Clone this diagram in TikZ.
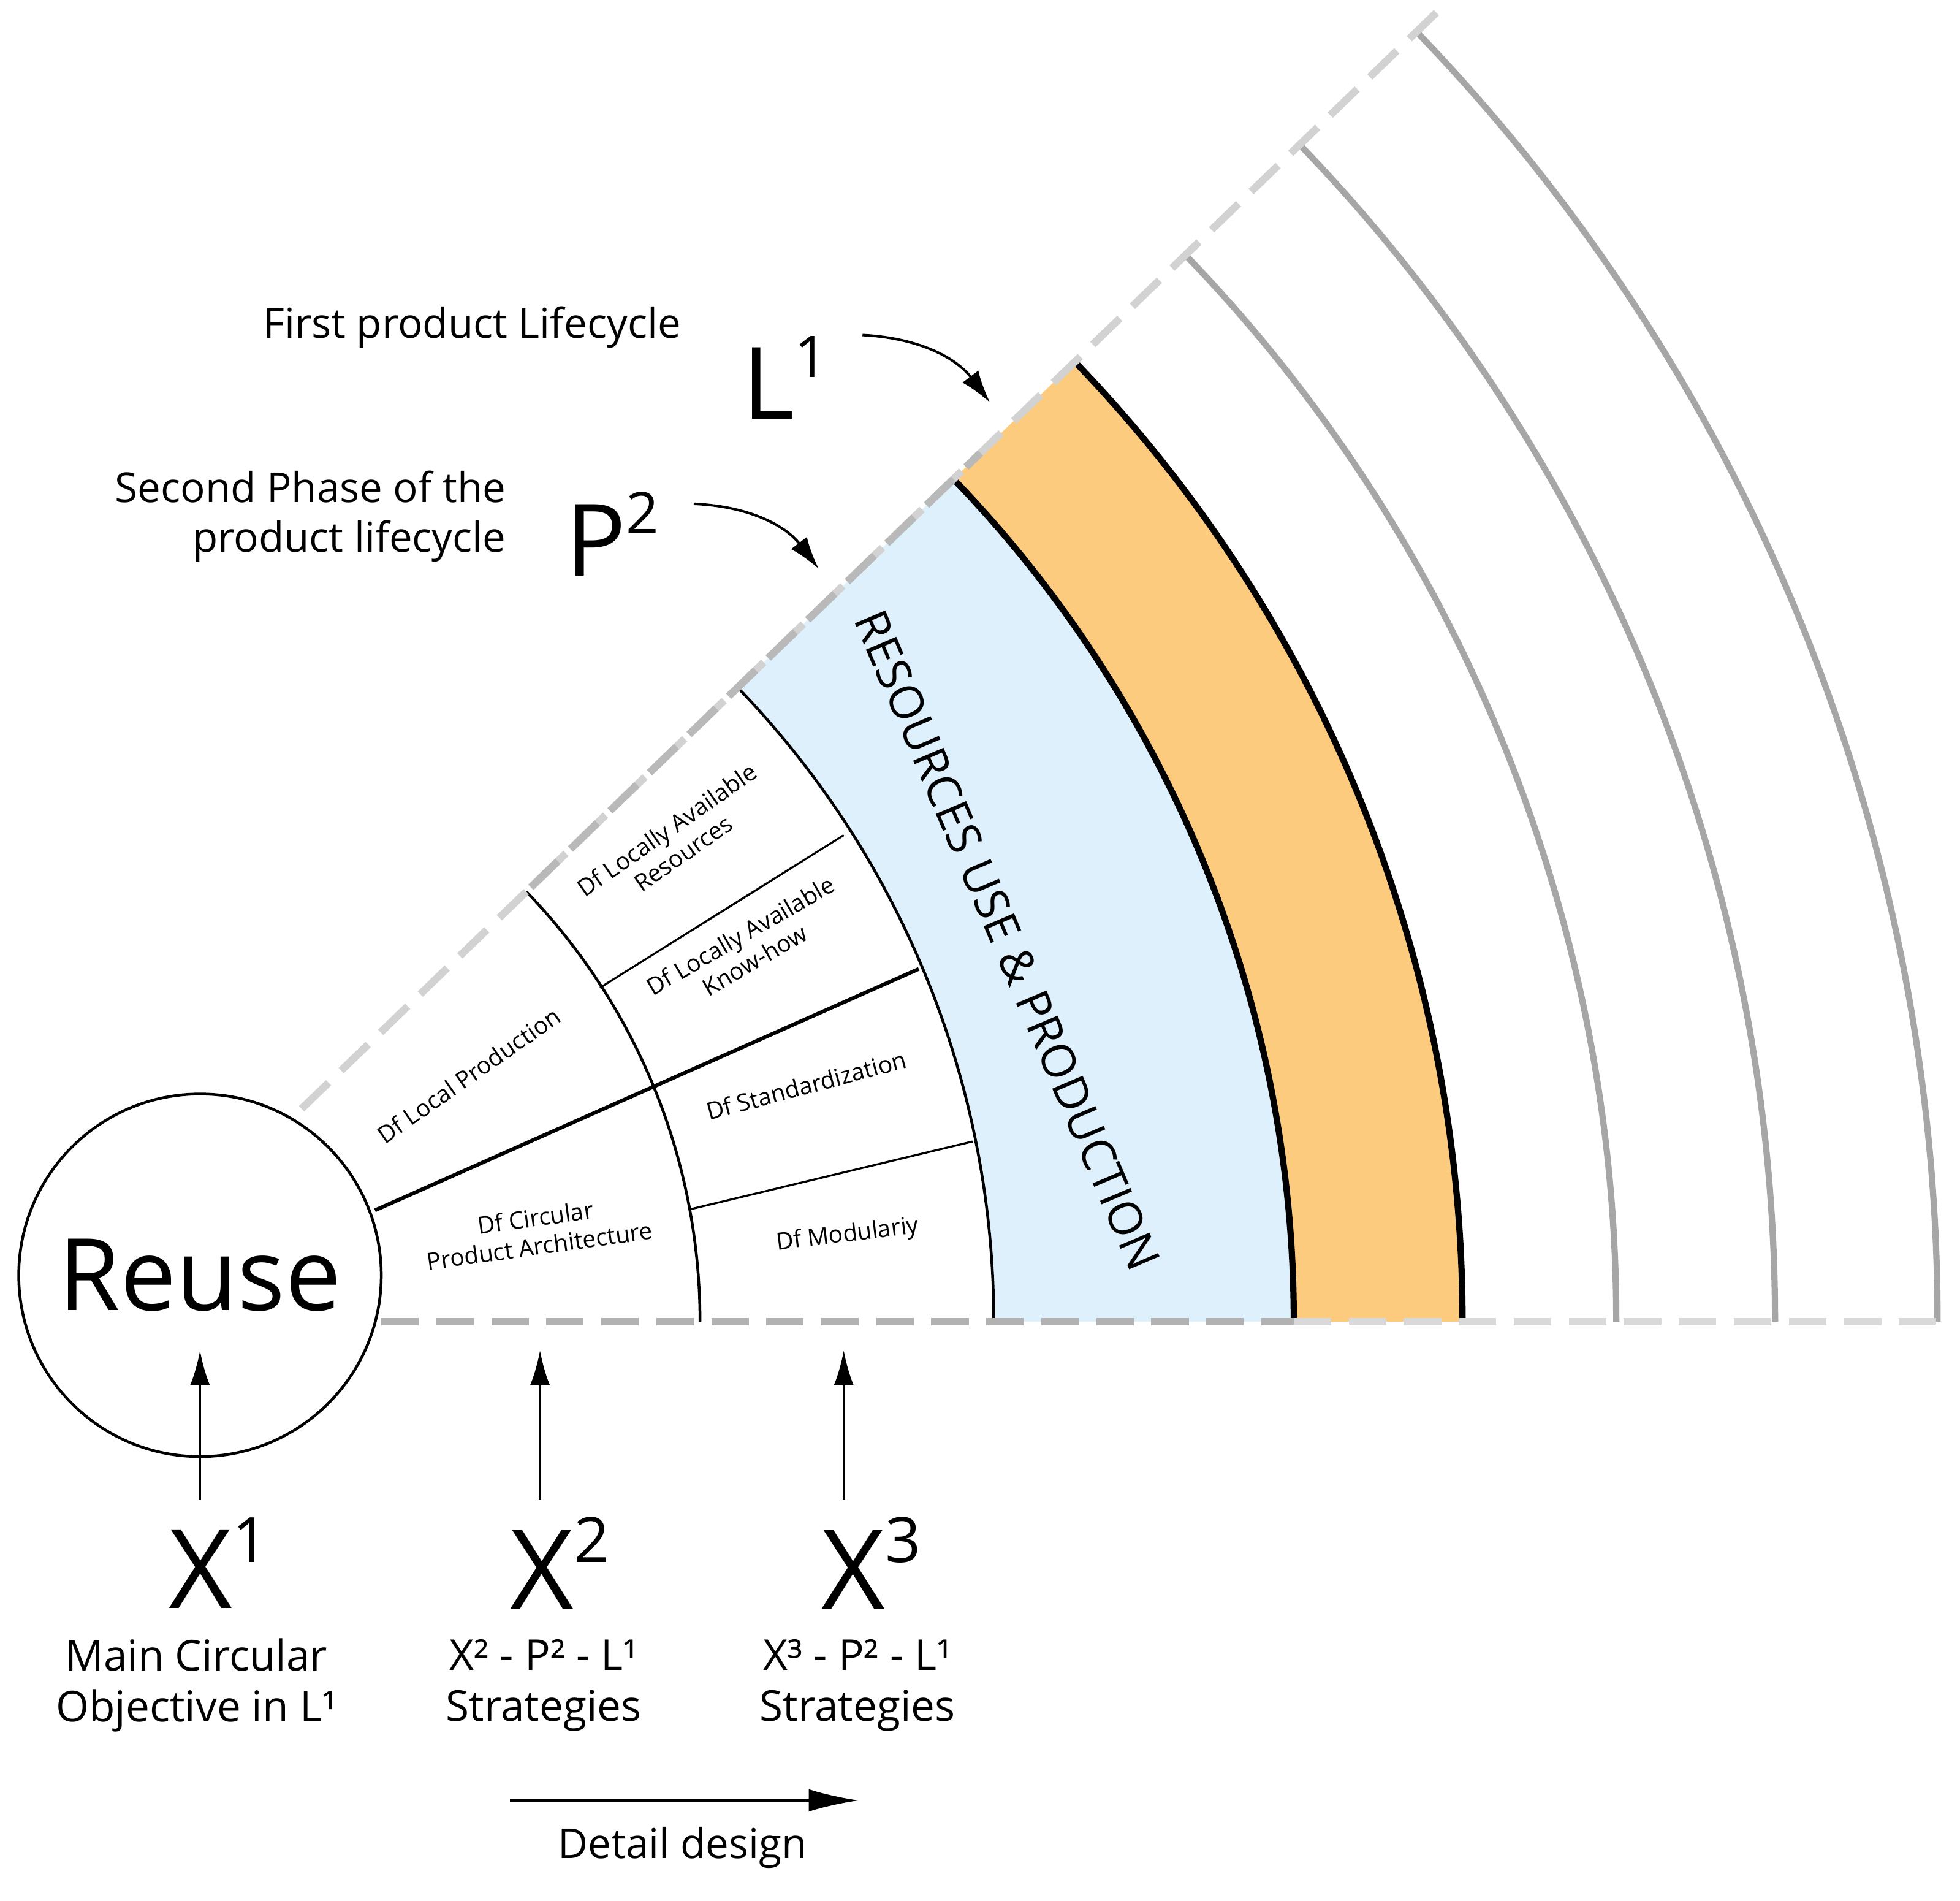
\documentclass[tikz,border=0pt]{standalone}
\usepackage{fontspec}
\setmainfont{Open Sans}
\usetikzlibrary{calc,arrows.meta}
\definecolor{bandblue}{HTML}{DDF0FB}
\definecolor{bandorange}{HTML}{FDCB7E}
\newcommand{\fsz}[1]{\fontsize{#1}{\dimexpr #1pt*6/5\relax}\selectfont}
\newcommand{\sups}[2]{\raisebox{0.42em}{\fsz{#1}#2}}
\tikzset{
  thinarc/.style={line width=2.2pt,black},
  thickarc/.style={line width=5pt,black},
  grayarc/.style={line width=5pt,gray!70},
  dashline/.style={line width=6pt,dash pattern=on 30pt off 14pt,line cap=butt},
  cell/.style={font=\fsz{19},align=center,inner sep=0pt},
  uparrow/.style={line width=2pt,-{Latex[length=28pt,width=16pt]}},
  curvarrow/.style={line width=2pt,-{Latex[length=26pt,width=16pt]}},
}
\begin{document}
\begin{tikzpicture}[x=1pt,y=1pt]
\useasboundingbox (0,0) rectangle (1568,1520);
\coordinate (C) at (65,463);
% bands
\fill[bandblue] ($(C)+(0:730)$) arc (0:44:730) -- ($(C)+(44:970)$) arc (44:0:970) -- cycle;
\fill[bandorange] ($(C)+(0:970)$) arc (0:44:970) -- ($(C)+(44:1105)$) arc (44:0:1105) -- cycle;
% arcs
\draw[thinarc] ($(C)+(0:495)$) arc (0:44:495);
\draw[thinarc] ($(C)+(0:730)$) arc (0:44:730);
\draw[thickarc] ($(C)+(0:970)$) arc (0:44:970);
\draw[thickarc] ($(C)+(0:1105)$) arc (0:44:1105);
\draw[grayarc] ($(C)+(0:1228)$) arc (0:44:1228);
\draw[grayarc] ($(C)+(0:1355)$) arc (0:44:1355);
\draw[grayarc] ($(C)+(0:1485)$) arc (0:44:1485);
% dashed boundaries
\coordinate (ua) at ($(C)+(44:245)$);
\coordinate (ub) at ($(C)+(44:1000)$);
\coordinate (uc) at ($(C)+(44:1510)$);
\draw[dashline,gray!35] (ua) -- (uc);
\draw[dashline,gray!55] ($(C)+(44:500)$) -- (ub);
\coordinate (ba) at (305,463);
\coordinate (bb) at (1035,463);
\coordinate (bc) at (1552,463);
\draw[dashline,gray!60] (ba) -- (bb);
\draw[dashline,gray!30] (bb) -- (bc);
% inner division lines
\coordinate (l1a) at (300,552); \coordinate (l1b) at (735,745);
\coordinate (l2a) at (480,730); \coordinate (l2b) at (675,852);
\coordinate (l3a) at (553,553); \coordinate (l3b) at (778,607);
\draw[line width=3pt] (l1a) -- (l1b);
\draw[line width=1.6pt] (l2a) -- (l2b);
\draw[line width=1.6pt] (l3a) -- (l3b);
% reuse circle
\node[draw,circle,line width=2.2pt,minimum size=290pt,inner sep=0pt,font=\fsz{80}] (reuse) at (160,500) {Reuse};
% cell labels
\node[cell,rotate=35] (c1) at (375,660) {Df Local Production};
\node[cell,rotate=8] (c2) at (430,535) {Df Circular\\Product Architecture};
\node[cell,rotate=35] (c3) at (540,847) {Df Locally Available\\Resources};
\node[cell,rotate=30] (c4) at (598,762) {Df Locally Available\\Know-how};
\node[cell,rotate=15] (c5) at (645,652) {Df Standardization};
\node[cell,rotate=7] (c6) at (678,532) {Df Modulariy};
\node[font=\fsz{37},rotate=-67,inner sep=0pt] (res) at (806,768) {RESOURCES USE \& PRODUCTION};
% top labels
\node[anchor=east,font=\fsz{33},inner sep=0pt] (fpl) at (545,1258) {First product Lifecycle};
\node[font=\fsz{80},inner sep=0pt] (L1) at (628,1218) {L\sups{46}{1}};
\coordinate (L1t) at (792,1198);
\draw[curvarrow] (690,1252) to[bend left=25] (L1t);
\node[anchor=east,align=right,font=\fsz{33},inner sep=0pt] (sp) at (405,1107) {Second Phase of the\\product lifecycle};
\node[font=\fsz{80},inner sep=0pt] (P2) at (490,1093) {P\sups{46}{2}};
\coordinate (P2t) at (655,1065);
\draw[curvarrow] (555,1117) to[bend left=25] (P2t);
% X labels
\node[font=\fsz{88},inner sep=0pt] (X1) at (175,270) {X\sups{50}{1}};
\node[font=\fsz{88},inner sep=0pt] (X2) at (448,270) {X\sups{50}{2}};
\node[font=\fsz{88},inner sep=0pt] (X3) at (697,270) {X\sups{50}{3}};
\coordinate (a1) at (160,440); \coordinate (a2) at (432,440); \coordinate (a3) at (675,440);
\draw[uparrow] (160,320) -- (a1);
\draw[uparrow] (432,320) -- (a2);
\draw[uparrow] (675,320) -- (a3);
\node[font=\fsz{34},align=center,inner sep=0pt] (t1) at (157,172) {Main Circular\\Objective in L¹};
\node[font=\fsz{34},align=center,inner sep=0pt] (t2) at (435,172) {X² - P² - L¹\\Strategies};
\node[font=\fsz{34},align=center,inner sep=0pt] (t3) at (686,172) {X³ - P² - L¹\\Strategies};
% detail design
\coordinate (dd1) at (408,80); \coordinate (dd2) at (687,80);
\draw[line width=2pt,-{Latex[length=40pt,width=18pt]}] (dd1) -- (dd2);
\node[font=\fsz{33},inner sep=0pt] (dd) at (546,42) {Detail design};
\end{tikzpicture}
\end{document}
